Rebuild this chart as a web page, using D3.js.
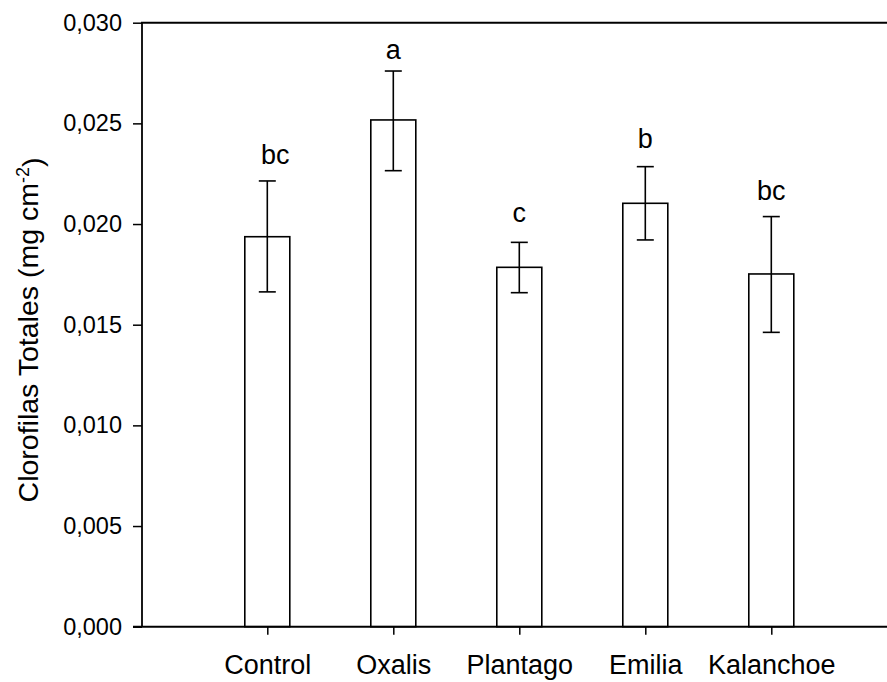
<!DOCTYPE html>
<html>
<head>
<meta charset="utf-8">
<script src="https://cdn.jsdelivr.net/npm/d3@7"></script>
<style>
  body { margin: 0; background: #fff; }
  svg text { font-family: "Liberation Sans", Arial, Helvetica, sans-serif; fill: #000; }
</style>
</head>
<body>
<div id="chart"></div>
<script>
// datos
var categorias = ["Control", "Oxalis", "Plantago", "Emilia", "Kalanchoe"];
var medias     = [0.01937, 0.02517, 0.01785, 0.02103, 0.01752];
var errSup     = [0.02214, 0.02760, 0.01909, 0.02285, 0.02037];
var errInf     = [0.01663, 0.02265, 0.01659, 0.01921, 0.01462];
var letras     = ["bc", "a", "c", "b", "bc"];
var letrasY    = [0.0230, 0.0282, 0.0201, 0.0238, 0.0212];
var ticksY     = [0, 0.005, 0.010, 0.015, 0.020, 0.025, 0.030];

var width = 887, height = 682;
var mLeft = 142, mTop = 22.7, mBottom = 626.7;

var svg = d3.select("#chart").append("svg")
	.attr("width", width)
	.attr("height", height);

var locale = d3.formatLocale({decimal: ",", thousands: ".", grouping: [3], currency: ["", ""]});
var fmt = locale.format(".3f");

// escalas
var y = d3.scaleLinear()
	.domain([0, 0.030])
	.range([mBottom, mTop]);

var x = d3.scalePoint()
	.domain(categorias)
	.range([267.3, 771.3]);

var barW = 45;

// barras
svg.selectAll("rect.bar")
	.data(medias)
  .enter().append("rect")
	.attr("class", "bar")
	.attr("x", function(d, i) { return x(categorias[i]) - barW / 2; })
	.attr("y", function(d) { return y(d); })
	.attr("width", barW)
	.attr("height", function(d) { return mBottom - y(d); })
	.attr("fill", "#fff")
	.attr("stroke", "#000")
	.attr("stroke-width", 1.6);

// barras de error
var eb = svg.selectAll("g.err")
	.data(categorias)
  .enter().append("g")
	.attr("class", "err")
	.attr("stroke", "#000")
	.attr("stroke-width", 1.6);

eb.append("line")
	.attr("x1", function(d) { return x(d); })
	.attr("x2", function(d) { return x(d); })
	.attr("y1", function(d, i) { return y(errSup[i]); })
	.attr("y2", function(d, i) { return y(errInf[i]); });
eb.append("line")
	.attr("x1", function(d) { return x(d) - 8.5; })
	.attr("x2", function(d) { return x(d) + 8.5; })
	.attr("y1", function(d, i) { return y(errSup[i]); })
	.attr("y2", function(d, i) { return y(errSup[i]); });
eb.append("line")
	.attr("x1", function(d) { return x(d) - 8.5; })
	.attr("x2", function(d) { return x(d) + 8.5; })
	.attr("y1", function(d, i) { return y(errInf[i]); })
	.attr("y2", function(d, i) { return y(errInf[i]); });

// letras de significancia
svg.selectAll("text.letra")
	.data(letras)
  .enter().append("text")
	.attr("class", "letra")
	.attr("x", function(d, i) { return x(categorias[i]) + (i == 0 ? 8 : 0); })
	.attr("y", function(d, i) { return y(letrasY[i]); })
	.attr("text-anchor", "middle")
	.style("font-size", "27px")
	.text(function(d) { return d; });

// eje y
var yAxis = svg.append("g")
	.attr("transform", "translate(" + mLeft + ",0)")
	.call(d3.axisLeft(y).tickValues(ticksY).tickFormat(fmt).tickSize(9).tickPadding(11));
yAxis.select(".domain").remove();
yAxis.selectAll(".tick line").attr("stroke-width", 1.5);
yAxis.selectAll("text").style("font-size", "23.5px");

// eje x
var xAxis = svg.append("g")
	.attr("transform", "translate(0," + mBottom + ")")
	.call(d3.axisBottom(x).tickSize(8).tickPadding(20));
xAxis.select(".domain").remove();
xAxis.selectAll(".tick line").attr("stroke-width", 1.5);
xAxis.selectAll("text").style("font-size", "27px");

// marco: izquierda, arriba, abajo
svg.append("line")
	.attr("x1", mLeft).attr("x2", mLeft)
	.attr("y1", mTop).attr("y2", mBottom)
	.attr("stroke", "#000").attr("stroke-width", 1.8);
svg.append("line")
	.attr("x1", mLeft - 1).attr("x2", width)
	.attr("y1", mTop).attr("y2", mTop)
	.attr("stroke", "#000").attr("stroke-width", 2);
svg.append("line")
	.attr("x1", mLeft - 9).attr("x2", width)
	.attr("y1", mBottom).attr("y2", mBottom)
	.attr("stroke", "#000").attr("stroke-width", 2);

// titulo eje y
var tit = svg.append("text")
	.attr("transform", "translate(37.5,330) rotate(-90)")
	.attr("text-anchor", "middle")
	.style("font-size", "28.5px");
tit.append("tspan").text("Clorofilas Totales (mg cm");
tit.append("tspan").attr("dy", "-0.45em").style("font-size", "18px").text("-2");
tit.append("tspan").attr("dy", "0.45em").text(")");
</script>
</body>
</html>
